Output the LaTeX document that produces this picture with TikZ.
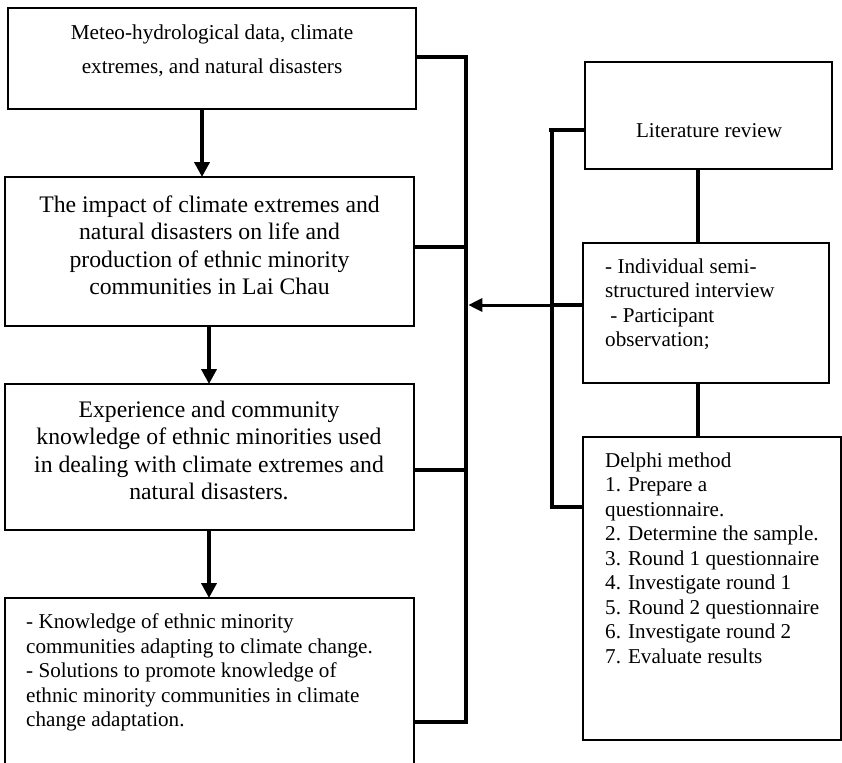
\documentclass[tikz,border=0pt]{standalone}
\usepackage{fontspec}
\setmainfont{Liberation Serif}
\usetikzlibrary{arrows.meta}
\begin{document}
\begin{tikzpicture}[x=1bp,y=-1bp,
  box/.style={draw, line width=1.5bp, rectangle, inner sep=0pt, outer sep=0pt, anchor=north west},
  ctxt/.style={inner sep=0pt, anchor=north, align=center},
  ltxt/.style={inner sep=0pt, anchor=north west, align=left},
  bigf/.style={font={\fontsize{23.8}{27.6}\selectfont}},
  midf/.style={font={\fontsize{21.2}{24.6}\selectfont}},
  topf/.style={font={\fontsize{21.3}{34}\selectfont}},
  vflow/.style={line width=4bp, -{Triangle[length=15bp,width=15bp]}},
  busline/.style={line width=4.5bp, line cap=rect},
  tie/.style={line width=4bp},
  thin tie/.style={line width=3.5bp},
  inarrow/.style={line width=3bp, -{Triangle[length=14bp,width=13bp]}, shorten >=2.3bp}
]
\useasboundingbox (0,0) rectangle (842,763);

% left column boxes
\node[box, minimum width=408bp, minimum height=101bp] (b1) at (8,8) {};
\node[box, minimum width=409bp, minimum height=149bp] (b2) at (5,177) {};
\node[box, minimum width=409bp, minimum height=146bp] (b3) at (5,384) {};
\node[box, minimum width=409bp, minimum height=172bp] (b4) at (5,598) {};

\node[ctxt, topf] (t1) at (212,24.5) {Meteo-hydrological data, climate\\extremes, and natural disasters};
\node[ctxt, bigf] (t2) at (209.5,195.4) {The impact of climate extremes and\\natural disasters on life and\\production of ethnic minority\\communities in Lai Chau};
\node[ctxt, bigf] (t3) at (209,400.4) {Experience and community\\knowledge of ethnic minorities used\\in dealing with climate extremes and\\natural disasters.};
\node[ltxt, midf] (t4) at (26,613.5) {- Knowledge of ethnic minority\\communities adapting to climate change.\\- Solutions to promote knowledge of\\ethnic minority communities in climate\\change adaptation.};

% right column boxes
\node[box, minimum width=247bp, minimum height=107bp] (lit) at (585,62) {};
\node[box, minimum width=246bp, minimum height=140bp] (intv) at (583,243) {};
\node[box, minimum width=258bp, minimum height=303bp] (del) at (583,437) {};

\node[inner sep=0pt, anchor=base, midf] (tlit) at (709,137) {Literature review};
\node[ltxt, midf] (tintv) at (605,258.5) {- Individual semi-\\structured interview\\\ - Participant\\observation;};
\node[ltxt, midf] (tdel) at (605,452.5) {Delphi method\\1. Prepare a\\questionnaire.\\2. Determine the sample.\\3. Round 1 questionnaire\\4. Investigate round 1\\5. Round 2 questionnaire\\6. Investigate round 2\\7. Evaluate results};

% helper coordinates
\coordinate (a1) at (202,0);
\coordinate (a2) at (209,0);
\coordinate (bus) at (466,0);
\coordinate (rb) at (552,0);
\coordinate (v1) at (698,0);
\coordinate (h1) at (0,57);
\coordinate (h2) at (0,247);
\coordinate (h3) at (0,470);
\coordinate (h4) at (0,722);
\coordinate (r1) at (0,130);
\coordinate (r2) at (0,305);
\coordinate (r3) at (0,507);

% vertical flow arrows
\draw[vflow] (b1.south -| a1) -- (b2.north -| a1);
\draw[vflow] (b2.south -| a2) -- (b3.north -| a2);
\draw[vflow] (b3.south -| a2) -- (b4.north -| a2);

% left bus
\draw[busline] (bus |- h1) -- (bus |- h4);
\draw[tie] (b1.east |- h1) -- (bus |- h1);
\draw[tie] (b2.east |- h2) -- (bus |- h2);
\draw[tie] (b3.east |- h3) -- (bus |- h3);
\draw[tie] (b4.east |- h4) -- (bus |- h4);

% right bracket
\draw[busline] (rb |- r1) -- (rb |- r3);
\draw[thin tie] (lit.west |- r1) -- ([xshift=-3bp]rb |- r1);
\draw[tie] (intv.west |- r2) -- (rb |- r2);
\draw[tie] (del.west |- r3) -- (rb |- r3);

% arrow into the left bus
\draw[inarrow] (rb |- r2) -- (bus |- r2);

% right column links
\draw[thin tie] (lit.south -| v1) -- (intv.north -| v1);
\draw[thin tie] (intv.south -| v1) -- (del.north -| v1);
\end{tikzpicture}
\end{document}
